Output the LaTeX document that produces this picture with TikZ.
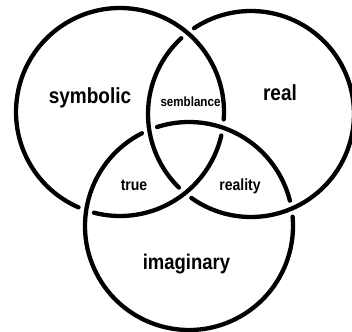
\documentclass[tikz,border=0pt]{standalone}
\usepackage{fontspec}
\usepackage{graphicx}
\setmainfont{Liberation Sans}
\begin{document}
\begin{tikzpicture}[x=1pt,y=1pt,
  ring/.style={line width=4.3pt, line cap=round, black},
  lbl/.style={inner sep=0pt, anchor=base}]
\clip (0,0) rectangle (352,331);
\fill[white] (0,0) rectangle (352,331);
% symbolic ring, centre (120,219), r 104
\draw[ring] (120,219) ++(-4.1:104) arc[start angle=-4.1, end angle=246.5, radius=104];
\draw[ring] (120,219) ++(-104.5:104) arc[start angle=-104.5, end angle=-13.1, radius=104];
% real ring, centre (251,217), r 103
\draw[ring] (251,217) ++(132.6:103) arc[start angle=132.6, end angle=225.6, radius=103];
\draw[ring] (251,217) ++(234.6:103) arc[start angle=234.6, end angle=483.6, radius=103];
% imaginary ring, centre (189,105), r 104
\draw[ring] (189,105) ++(14.1:104) arc[start angle=14.1, end angle=107.9, radius=104];
\draw[ring] (189,105) ++(116.9:104) arc[start angle=116.9, end angle=365.1, radius=104];
% labels
\node[lbl] (symbolic) at (90,227) {\scalebox{1}[1.15]{\fontsize{19}{19}\selectfont\bfseries symbolic}};
\node[lbl] (real) at (280,230) {\scalebox{1}[1.15]{\fontsize{19}{19}\selectfont\bfseries real}};
\node[lbl] (imaginary) at (186.5,61) {\scalebox{1}[1.15]{\fontsize{18.5}{19}\selectfont\bfseries imaginary}};
\node[lbl] (semblance) at (190.5,224) {\scalebox{1}[1.15]{\fontsize{11.6}{12}\selectfont\bfseries semblance}};
\node[lbl] (true) at (134,140.5) {\scalebox{1}[1.15]{\fontsize{14}{14}\selectfont\bfseries true}};
\node[lbl] (reality) at (240,140.5) {\scalebox{1}[1.15]{\fontsize{14}{14}\selectfont\bfseries reality}};
\end{tikzpicture}
\end{document}
